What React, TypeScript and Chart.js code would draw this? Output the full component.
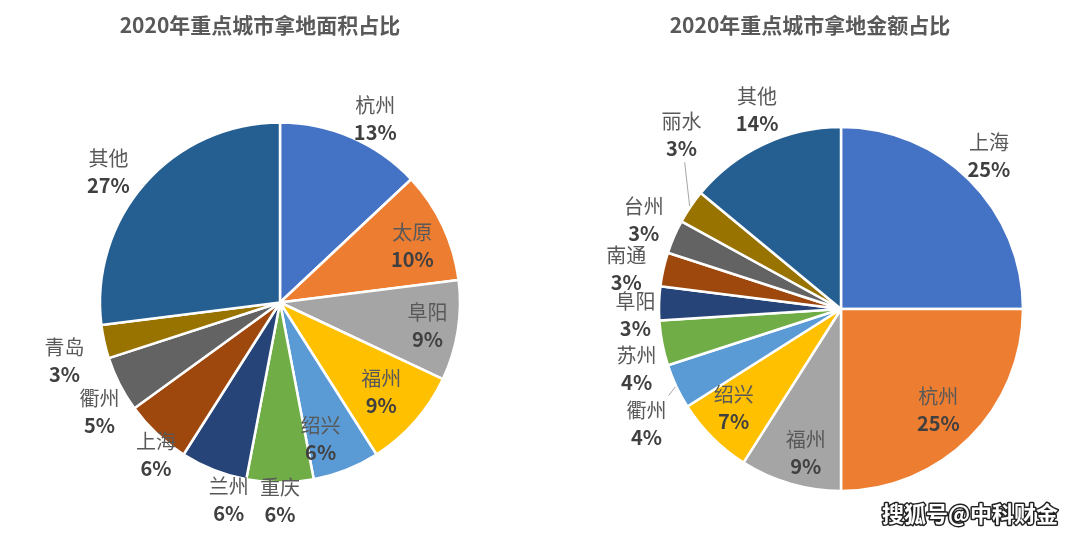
import React, { useEffect, useRef } from "react";
import { Chart, registerables } from "chart.js";

Chart.register(...registerables);

const areaTitle = "2020年重点城市拿地面积占比";
const areaCities = ["杭州", "太原", "阜阳", "福州", "绍兴", "重庆", "兰州", "上海", "衢州", "青岛", "其他"];
const areaShares = [13, 10, 9, 9, 6, 6, 6, 6, 5, 3, 27];

const amountTitle = "2020年重点城市拿地金额占比";
const amountCities = ["上海", "杭州", "福州", "绍兴", "衢州", "苏州", "阜阳", "南通", "台州", "丽水", "其他"];
const amountShares = [25, 25, 9, 7, 4, 4, 3, 3, 3, 3, 14];

const watermark = "搜狐号@中科财金";

const palette = [
  "#4472C4", "#ED7D31", "#A5A5A5", "#FFC000", "#5B9BD5", "#70AD47",
  "#264478", "#9E480E", "#636363", "#997300", "#255E91",
];

// label placement (styles, not data): radius factor and angle offset (deg)
const areaLabelRadius = [1.15, 0.8, 0.83, 0.75, 0.79, 1.1, 1.13, 1.09, 1.17, 1.24, 1.2];
const areaLabelAngle = [4, 2, 0, 0, 5, 0, -7, -4, -4, -2.5, -4];
const areaLeader = [false, false, false, false, false, false, false, false, false, false, false];

const amountLabelRadius = [1.17, 0.77, 0.81, 0.8, 1.24, 1.17, 1.13, 1.2, 1.19, 1.3, 1.19];
const amountLabelAngle = [-1, 1, -2.4, 2.5, -5.3, -5.5, -3.2, -2, 1, 13.4, 2.4];
const amountLeader = [false, false, false, false, true, false, false, false, false, true, false];

const FONT = '"Noto Sans CJK SC", "Noto Sans", sans-serif';

type PieProps = {
  title: string;
  titleX: number;
  labels: string[];
  values: number[];
  labelRadius: number[];
  labelAngle: number[];
  leader: boolean[];
  radius: number;
  padding: { left: number; right: number; top: number; bottom: number };
  left: number;
  mark?: { text: string; x: number; y: number };
};

function PieChart(props: PieProps) {
  const ref = useRef<HTMLCanvasElement | null>(null);
  useEffect(() => {
    const canvas = ref.current;
    if (!canvas) return;
    const labelPlugin = {
      id: "pieLabels",
      afterDatasetsDraw(chart: any) {
        const ctx = chart.ctx;
        const meta = chart.getDatasetMeta(0);
        const total = props.values.reduce((a, b) => a + b, 0);
        meta.data.forEach((arc: any, i: number) => {
          const p = arc.getProps(["x", "y", "startAngle", "endAngle", "outerRadius"], true);
          const mid = (p.startAngle + p.endAngle) / 2;
          const ang = mid + (props.labelAngle[i] * Math.PI) / 180;
          const rr = p.outerRadius * props.labelRadius[i];
          const cx = p.x + Math.cos(ang) * rr;
          const cy = p.y + Math.sin(ang) * rr;
          if (props.leader[i]) {
            const sx = p.x + Math.cos(mid) * (p.outerRadius + 1);
            const sy = p.y + Math.sin(mid) * (p.outerRadius + 1);
            const dx = cx - sx;
            const dy = cy - sy;
            const tx = Math.abs(dx) > 0 ? 1 - 22 / Math.abs(dx) : -Infinity;
            const ty = Math.abs(dy) > 0 ? 1 - 28 / Math.abs(dy) : -Infinity;
            const t = Math.max(0, Math.max(tx, ty));
            ctx.save();
            ctx.strokeStyle = "#A5A5A5";
            ctx.lineWidth = 1;
            ctx.beginPath();
            ctx.moveTo(sx, sy);
            ctx.lineTo(sx + dx * t, sy + dy * t);
            ctx.stroke();
            ctx.restore();
          }
          const pct = Math.round((props.values[i] / total) * 100) + "%";
          ctx.save();
          ctx.textAlign = "center";
          ctx.textBaseline = "middle";
          ctx.fillStyle = "#595959";
          ctx.font = "20px " + FONT;
          ctx.fillText(props.labels[i], cx, cy - 13);
          ctx.fillStyle = "#404040";
          ctx.font = "bold 20px " + FONT;
          ctx.fillText(pct, cx, cy + 14);
          ctx.restore();
        });
      },
      afterDraw(chart: any) {
        const ctx = chart.ctx;
        ctx.save();
        ctx.textAlign = "center";
        ctx.textBaseline = "middle";
        ctx.fillStyle = "#595959";
        ctx.font = "bold 21px " + FONT;
        ctx.fillText(props.title, props.titleX, 25);
        if (props.mark) {
          ctx.font = "bold 22px " + FONT;
          ctx.lineWidth = 3;
          ctx.strokeStyle = "#222222";
          ctx.lineJoin = "round";
          ctx.strokeText(props.mark.text, props.mark.x, props.mark.y);
          ctx.fillStyle = "#ffffff";
          ctx.fillText(props.mark.text, props.mark.x, props.mark.y);
        }
        ctx.restore();
      },
    };
    const chart = new Chart(canvas, {
      type: "pie",
      data: {
        labels: props.labels,
        datasets: [
          {
            data: props.values,
            backgroundColor: palette,
            borderColor: "#ffffff",
            borderWidth: 2.5,
            hoverOffset: 0,
          },
        ],
      },
      options: {
        responsive: false,
        animation: false,
        events: [],
        radius: props.radius,
        layout: { padding: props.padding },
        plugins: {
          legend: { display: false },
          tooltip: { enabled: false },
          title: { display: false },
        },
      } as any,
      plugins: [labelPlugin],
    });
    return () => chart.destroy();
  }, []);
  return (
    <canvas
      ref={ref}
      width={540}
      height={537}
      style={{ position: "absolute", left: props.left, top: 0, width: 540, height: 537 }}
    />
  );
}

export default function App() {
  return (
    <div style={{ position: "absolute", left: 0, top: 0, width: 1080, height: 537, background: "#ffffff" }}>
      <PieChart
        title={areaTitle}
        titleX={260}
        labels={areaCities}
        values={areaShares}
        labelRadius={areaLabelRadius}
        labelAngle={areaLabelAngle}
        leader={areaLeader}
        radius={180}
        padding={{ left: 20, right: 0, top: 68, bottom: 0 }}
        left={0}
      />
      <PieChart
        title={amountTitle}
        titleX={270}
        labels={amountCities}
        values={amountShares}
        labelRadius={amountLabelRadius}
        labelAngle={amountLabelAngle}
        leader={amountLeader}
        radius={182}
        padding={{ left: 62, right: 0, top: 81, bottom: 0 }}
        left={540}
        mark={{ text: watermark, x: 430, y: 514 }}
      />
    </div>
  );
}
